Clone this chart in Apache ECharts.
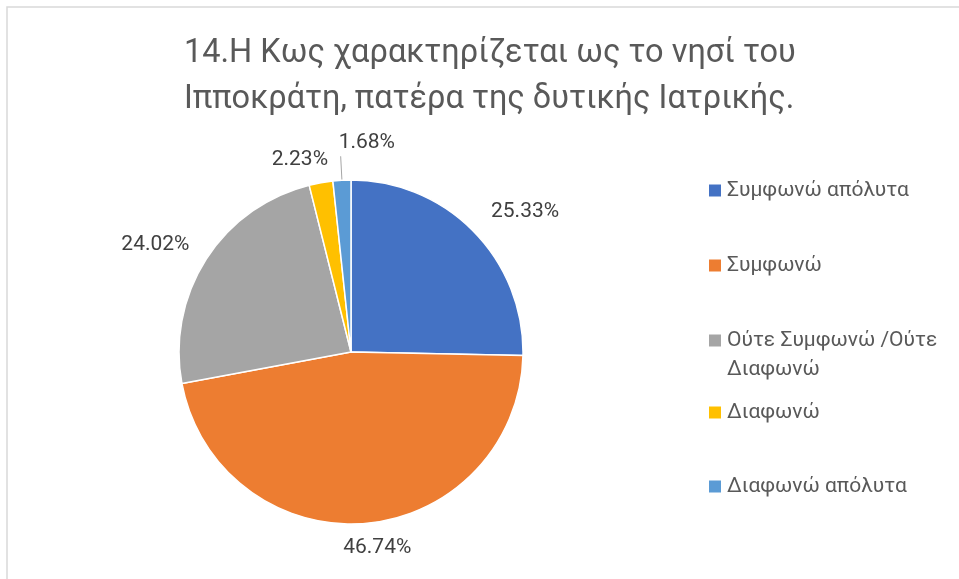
<!DOCTYPE html>
<html>
<head>
<meta charset="utf-8">
<script src="https://cdn.jsdelivr.net/npm/echarts@6/dist/echarts.min.js"></script>
<style>
  html, body { margin: 0; padding: 0; background: #fff; }
  #chart { width: 959px; height: 579px; }
</style>
</head>
<body>
<div id="chart"></div>
<script>
// categories / values (percent)
var categories = ["Συμφωνώ απόλυτα", "Συμφωνώ", "Ούτε Συμφωνώ /Ούτε Διαφωνώ", "Διαφωνώ", "Διαφωνώ απόλυτα"];
var values = [25.33, 46.74, 24.02, 2.23, 1.68];
var colors = ["#4472C4", "#ED7D31", "#A5A5A5", "#FFC000", "#5B9BD5"];
var titleText = "14.Η Κως χαρακτηρίζεται ως το νησί του\nΙπποκράτη, πατέρα της δυτικής Ιατρικής.";

var CX = 351, CY = 352, R = 172;
var textColor = "#595959";
var labelColor = "#404040";
var font = "Roboto";

var total = 0;
var cum = [];
values.forEach(function (v) { cum.push(total); total += v; });

var chart = echarts.init(document.getElementById("chart"));

var pieData = categories.map(function (name, i) {
  var item = { name: name, value: values[i], itemStyle: { color: colors[i] } };
  if (i === 4) {
    item.labelLine = { show: true, lineStyle: { color: "#A6A6A6", width: 1 } };
  }
  return item;
});

// one legend per entry, Excel spaces them unevenly
var legendTops = [176, 251, 297, 398, 472];
var legends = categories.map(function (name, i) {
  var lg = {
    data: [name],
    left: 707,
    top: legendTops[i],
    padding: 0,
    itemWidth: 14,
    itemHeight: 14,
    itemGap: 5,
    icon: "rect",
    selectedMode: false,
    textStyle: { color: textColor, fontSize: 21, fontFamily: font, lineHeight: 29 },
  };
  if (i === 2) {
    // empty first line so the marker sits beside the first text line
    lg.formatter = function () { return " \nΟύτε Συμφωνώ /Ούτε\nΔιαφωνώ"; };
  }
  return lg;
});

// small per-label shifts to match where Excel put them
var nudge = [[14, 0], [8, -4], [-7, 1], [-13, 5], [0, 0]];

var option = {
  backgroundColor: "#fff",
  animation: false,
  title: {
    text: titleText,
    left: 179,
    top: 26,
    padding: [5, 0, 5, 5],
    textStyle: {
      color: textColor,
      fontSize: 32.5,
      fontWeight: "normal",
      fontFamily: font,
      lineHeight: 46,
    },
  },
  legend: legends,
  graphic: [
    {
      type: "rect",
      shape: { x: 7, y: 7, width: 1000, height: 1000 },
      style: { fill: "none", stroke: "#D9D9D9", lineWidth: 1.5 },
      silent: true,
    },
  ],
  series: [
    {
      type: "pie",
      center: [CX, CY],
      radius: R,
      startAngle: 90,
      clockwise: true,
      avoidLabelOverlap: false,
      itemStyle: { borderColor: "#fff", borderWidth: 1.5 },
      label: {
        show: true,
        position: "outside",
        color: labelColor,
        fontSize: 21,
        fontFamily: font,
        formatter: function (p) { return p.value.toFixed(2) + "%"; },
      },
      labelLine: { show: false, length: 10, length2: 0 },
      labelLayout: function (p) {
        var i = p.dataIndex;
        var mid = (cum[i] + values[i] / 2) / total * 2 * Math.PI;
        var sx = Math.sin(mid), sy = -Math.cos(mid);
        var w = p.labelRect.width, h = p.labelRect.height;
        if (i === 4) {
          var x0 = CX + R * sx, y0 = CY + R * sy;
          var x1 = CX + (R + 24) * sx, y1 = CY + (R + 24) * sy;
          return {
            x: x1 - 2, y: y1 - 3, align: "left", verticalAlign: "bottom",
            labelLinePoints: [[x0, y0], [x1, y1], [x1, y1]],
          };
        }
        var r = R + 18;
        var x = CX + r * sx + (w / 2) * sx + nudge[i][0];
        var y = CY + r * sy + (h / 2) * sy + nudge[i][1];
        return { x: x, y: y, align: "center", verticalAlign: "middle" };
      },
      data: pieData,
    },
  ],
};

chart.setOption(option);
</script>
</body>
</html>
